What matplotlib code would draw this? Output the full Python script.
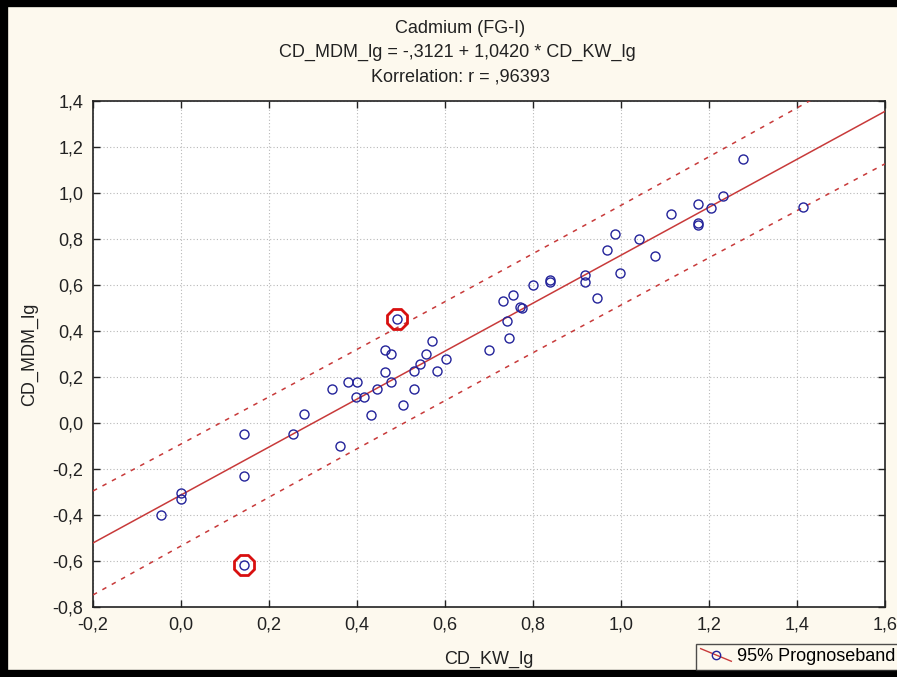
import numpy as np
import matplotlib
matplotlib.use('Agg')
import matplotlib.pyplot as plt
from matplotlib.ticker import FuncFormatter, MultipleLocator
from matplotlib.lines import Line2D
from matplotlib.legend_handler import HandlerBase

# data
cd_kw_lg = [-0.046, 0.000, 0.000, 0.143, 0.143, 0.143, 0.255, 0.280, 0.344, 0.361,
            0.379, 0.399, 0.397, 0.415, 0.431, 0.446, 0.464, 0.464, 0.477, 0.477,
            0.491, 0.505, 0.530, 0.530, 0.543, 0.557, 0.570, 0.581, 0.602, 0.699,
            0.746, 0.742, 0.731, 0.755, 0.770, 0.776, 0.800, 0.839, 0.839, 0.918,
            0.918, 0.945, 0.969, 0.986, 0.997, 1.041, 1.078, 1.113, 1.176, 1.176,
            1.176, 1.204, 1.232, 1.278, 1.414]
cd_mdm_lg = [-0.399, -0.302, -0.331, -0.047, -0.228, -0.617, -0.047, 0.040, 0.147, -0.098,
             0.177, 0.177, 0.112, 0.112, 0.037, 0.147, 0.224, 0.319, 0.301, 0.177,
             0.451, 0.077, 0.147, 0.227, 0.258, 0.301, 0.358, 0.228, 0.279, 0.320,
             0.371, 0.446, 0.530, 0.555, 0.504, 0.502, 0.602, 0.624, 0.612, 0.642,
             0.612, 0.543, 0.751, 0.824, 0.652, 0.800, 0.726, 0.911, 0.952, 0.870,
             0.862, 0.933, 0.986, 1.146, 0.940]
outliers_x = [0.491, 0.143]
outliers_y = [0.451, -0.617]
intercept = -0.3121
slope = 1.0420
t_val = 2.006

x = np.array(cd_kw_lg)
y = np.array(cd_mdm_lg)
n = len(x)
resid = y - (intercept + slope * x)
s = np.sqrt((resid ** 2).sum() / (n - 2))
xs = np.linspace(-0.2, 1.6, 200)
fit = intercept + slope * xs
half = t_val * s * np.sqrt(1 + 1.0 / n + (xs - x.mean()) ** 2 / ((x - x.mean()) ** 2).sum())

plt.rcParams['font.family'] = ['Liberation Sans', 'DejaVu Sans']
bg = '#fdf9ee'
red = '#c83a3a'
blue = '#23239a'
txt = '#222222'


# legend key like the original: slanted red line through an open circle
class SlantHandler(HandlerBase):
    def create_artists(self, legend, orig, xd, yd, w, h, fontsize, trans):
        ln = Line2D([-xd, -xd + w], [-yd + h, -yd], color=red, linewidth=1, transform=trans)
        mk = Line2D([-xd + w / 2], [-yd + h / 2], linestyle='none', marker='o', markersize=6,
                    markerfacecolor='none', markeredgecolor=blue, transform=trans)
        return [ln, mk]


fig = plt.figure(figsize=(8.97, 6.77), dpi=100, facecolor=bg)
ax = fig.add_axes([0.1037, 0.103, 0.8829, 0.7478])
ax.set_facecolor('white')

ax.plot(xs, fit, color=red, linewidth=1.1, zorder=3)
ax.plot(xs, fit + half, color=red, linewidth=1.1, linestyle=(0, (3, 4)), zorder=3)
ax.plot(xs, fit - half, color=red, linewidth=1.1, linestyle=(0, (3, 4)), zorder=3)
ax.plot(x, y, linestyle='none', marker='o', markersize=6.5, markerfacecolor='none',
        markeredgecolor=blue, markeredgewidth=1.0, zorder=4)
ax.plot(outliers_x, outliers_y, linestyle='none', marker='8', markersize=15.5,
        markerfacecolor='none', markeredgecolor='#d81010', markeredgewidth=2.0, zorder=5)

ax.set_xlim(-0.2, 1.6)
ax.set_ylim(-0.8, 1.4)
ax.xaxis.set_major_locator(MultipleLocator(0.2))
ax.yaxis.set_major_locator(MultipleLocator(0.2))
fmt = FuncFormatter(lambda v, p: ('%.1f' % v).replace('.', ','))
ax.xaxis.set_major_formatter(fmt)
ax.yaxis.set_major_formatter(fmt)
ax.tick_params(direction='in', length=5, width=1, labelsize=13, colors=txt,
               top=True, right=True, pad=7)
ax.grid(True, color='#b8b8b8', linestyle=(0, (1, 2)), linewidth=0.8)
for sp in ax.spines.values():
    sp.set_linewidth(1.2)
    sp.set_color(txt)

ax.set_xlabel('CD_KW_lg', fontsize=13, color=txt, labelpad=12)
ax.set_ylabel('CD_MDM_lg', fontsize=13, color=txt, labelpad=10)

fig.text(0.513, 0.958, 'Cadmium (FG-I)', ha='center', va='center', fontsize=13, color=txt)
fig.text(0.510, 0.922, 'CD_MDM_lg = -,3121 + 1,0420 * CD_KW_lg', ha='center', va='center',
         fontsize=13, color=txt)
fig.text(0.513, 0.886, 'Korrelation: r = ,96393', ha='center', va='center', fontsize=13,
         color=txt)

leg = fig.legend([Line2D([], [])], ['95% Prognoseband'], loc='lower left',
                 bbox_to_anchor=(0.768, 0.0), fontsize=13, frameon=True, fancybox=False,
                 handlelength=1.7, handletextpad=0.3, borderpad=0.25, borderaxespad=0.4,
                 handler_map={Line2D: SlantHandler()})
leg.get_frame().set_edgecolor(txt)
leg.get_frame().set_facecolor(bg)
leg.get_frame().set_linewidth(1)

# black border of the original window
fig.add_artist(Line2D([0.004, 0.004], [0, 1], transform=fig.transFigure, color='black', linewidth=6))
fig.add_artist(Line2D([0, 1], [0.996, 0.996], transform=fig.transFigure, color='black', linewidth=6))
fig.add_artist(Line2D([0, 1], [0.004, 0.004], transform=fig.transFigure, color='black', linewidth=6))

fig.savefig('out.png', dpi=100, facecolor=bg)
